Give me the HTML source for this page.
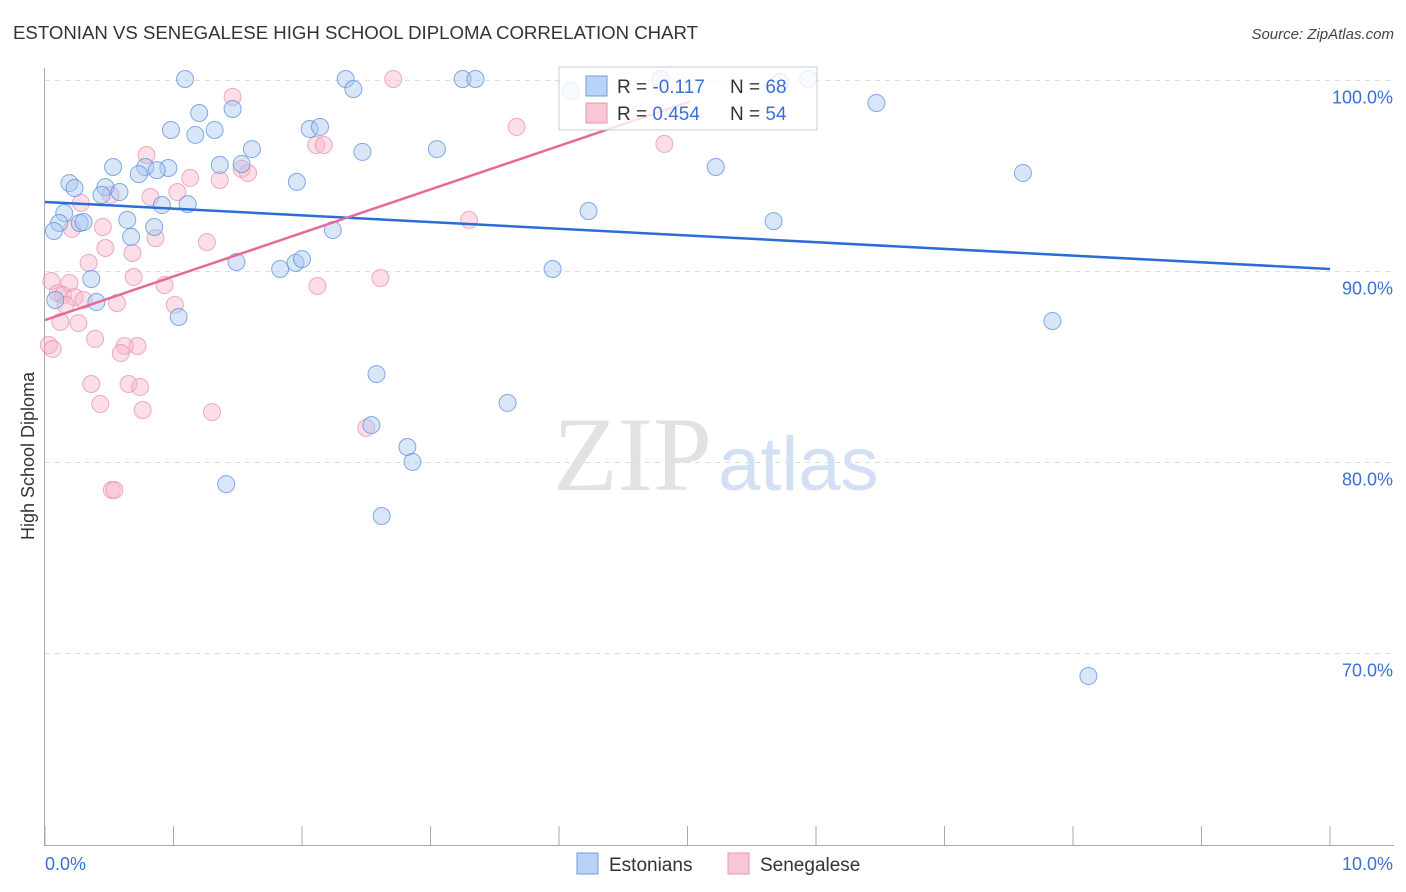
<!DOCTYPE html>
<html><head><meta charset="utf-8"><style>
body{margin:0;background:#fff;font-family:"Liberation Sans",sans-serif;}
</style></head><body>
<svg id="chart" width="1406" height="892" xmlns="http://www.w3.org/2000/svg" style="display:block;font-family:'Liberation Sans',sans-serif">
<text x="13" y="39" font-size="18" fill="#333" textLength="685" lengthAdjust="spacingAndGlyphs">ESTONIAN VS SENEGALESE HIGH SCHOOL DIPLOMA CORRELATION CHART</text>
<text x="1394" y="39" font-size="15" fill="#444" text-anchor="end" font-style="italic">Source: ZipAtlas.com</text>
<text x="553" y="490" font-size="106" fill="#e2e2e2" font-family="Liberation Serif,serif">ZIP</text>
<text x="718" y="490" font-size="76" fill="#d3e0f3">atlas</text>
<g id="grid"></g>
<g id="axes"></g>
<text transform="translate(34,456) rotate(-90)" font-size="18" fill="#333" text-anchor="middle">High School Diploma</text>
<g id="marks"></g>
<g id="lines"></g>
<g>
<rect x="559" y="67" width="258" height="63" fill="#fff" fill-opacity="0.8" stroke="#ccc"/>
<rect x="586" y="76" width="21" height="20" fill="#b9d2f5" stroke="#6e9ee6"/>
<rect x="586" y="103" width="21" height="20" fill="#f9c6d6" stroke="#ec93b0"/>
<text x="617" y="93" font-size="19" fill="#333">R = <tspan fill="#3a6fd8">-0.117</tspan></text>
<text x="730" y="93" font-size="19" fill="#333">N = <tspan fill="#3a6fd8">68</tspan></text>
<text x="617" y="120" font-size="19" fill="#333">R = <tspan fill="#3a6fd8">0.454</tspan></text>
<text x="730" y="120" font-size="19" fill="#333">N = <tspan fill="#3a6fd8">54</tspan></text>
</g>
<g>
<rect x="577" y="853" width="21" height="21" fill="#b9d2f5" stroke="#6e9ee6"/>
<text x="609" y="871" font-size="19" fill="#333">Estonians</text>
<rect x="728" y="853" width="21" height="21" fill="#f9c6d6" stroke="#ec93b0"/>
<text x="760" y="871" font-size="19" fill="#333">Senegalese</text>
</g>
</svg>
<script>
const blueX=[1.09,2.34,3.25,3.35,4.79,5.72,5.94,2.40,4.09,6.47,1.20,1.46,0.98,1.32,1.17,2.06,2.14,1.61,2.47,3.05,0.53,0.78,0.96,0.87,0.73,1.36,1.53,5.22,7.61,0.19,0.23,0.47,0.58,0.44,1.96,0.91,1.11,4.23,0.15,0.11,0.27,0.30,0.64,0.85,5.67,2.24,0.07,0.67,1.49,1.83,1.95,2.00,3.95,0.36,0.40,1.04,7.84,0.08,2.58,3.60,2.54,2.82,2.86,1.41,2.62,8.12];
const blueY=[100.08,100.08,100.08,100.08,100.08,99.92,100.08,99.55,99.45,98.82,98.30,98.51,97.41,97.41,97.15,97.46,97.57,96.41,96.26,96.41,95.47,95.47,95.42,95.31,95.10,95.58,95.63,95.47,95.16,94.63,94.37,94.42,94.16,94.01,94.69,93.48,93.53,93.17,93.06,92.54,92.54,92.59,92.70,92.33,92.64,92.17,92.12,91.81,90.50,90.13,90.45,90.65,90.13,89.61,88.40,87.62,87.41,88.51,84.63,83.12,81.96,80.81,80.03,78.87,77.20,68.82];
const pinkX=[2.71,1.46,3.67,0.79,2.11,2.17,4.82,1.53,1.58,1.13,1.36,0.82,1.03,0.28,0.51,3.30,0.21,0.45,0.86,1.26,0.47,0.68,0.34,0.05,0.19,2.61,0.69,2.12,0.93,0.10,0.14,0.23,0.30,0.56,1.01,0.16,0.26,0.12,0.39,0.72,0.62,0.59,0.03,0.06,0.36,0.65,0.74,0.43,0.76,1.30,2.50,0.52,0.54];
const pinkY=[100.08,99.14,97.57,96.10,96.62,96.62,96.68,95.37,95.16,94.90,94.79,93.90,94.16,93.59,94.01,92.70,92.23,92.33,91.75,91.54,91.23,90.97,90.45,89.50,89.40,89.66,89.71,89.24,89.29,88.87,88.77,88.66,88.51,88.35,88.25,88.25,87.30,87.36,86.47,86.10,86.10,85.73,86.15,85.94,84.11,84.11,83.95,83.06,82.75,82.64,81.81,78.56,78.56];
const yTicks=[100,90,80,70];
const yTickLabels=["100.0%","90.0%","80.0%","70.0%"];
const xTicks=[0,1,2,3,4,5,6,7,8,9,10];
const xLabels=["0.0%","10.0%"];
const blueTrend=[[0,93.64],[10,90.13]];
const pinkTrend=[[0,87.46],[5.02,98.9]];

const NS="http://www.w3.org/2000/svg";
const sx=v=>45+v*128.5;
const sy=v=>80.5+(100-v)*19.1;
function mk(tag,attrs,parent){const e=document.createElementNS(NS,tag);for(const k in attrs)e.setAttribute(k,attrs[k]);document.getElementById(parent).appendChild(e);return e;}
yTicks.forEach((t,i)=>{
 const g=mk('line',{x1:45,x2:1394,y1:sy(t),y2:sy(t),stroke:'#ddd','stroke-dasharray':'5,5'},'grid');
 
 
 const tx=mk('text',{x:1393,y:sy(t)+23,'font-size':18,fill:'#3a6fd8','text-anchor':'end'},'axes');
 tx.textContent=yTickLabels[i];
 
 
});
const ax=mk('line',{x1:44.5,x2:44.5,y1:68,y2:845,stroke:'#aaa'},'axes');


const bx=mk('line',{x1:44,x2:1394,y1:845.5,y2:845.5,stroke:'#aaa'},'axes');


xTicks.forEach(t=>{
 const l=mk('line',{x1:sx(t),x2:sx(t),y1:826,y2:845,stroke:'#aaa'},'axes');
 
 
});
const xl0=mk('text',{x:45,y:870,'font-size':18,fill:'#3a6fd8'},'axes');xl0.textContent=xLabels[0];


const xl1=mk('text',{x:1393,y:870,'font-size':18,fill:'#3a6fd8','text-anchor':'end'},'axes');xl1.textContent=xLabels[1];


pinkX.forEach((x,i)=>{
 const c=mk('circle',{cx:sx(x),cy:sy(pinkY[i]),r:8.5,fill:'#f6b5ca','fill-opacity':0.45,stroke:'#e88aa9','stroke-opacity':0.7},'marks');
 
 
});
blueX.forEach((x,i)=>{
 const c=mk('circle',{cx:sx(x),cy:sy(blueY[i]),r:8.5,fill:'#a9c7f0','fill-opacity':0.45,stroke:'#5b8fe0','stroke-opacity':0.75},'marks');
 
 
});
const bl=mk('line',{x1:sx(blueTrend[0][0]),y1:sy(blueTrend[0][1]),x2:sx(blueTrend[1][0]),y2:sy(blueTrend[1][1]),stroke:'#2a6dd6','stroke-width':2.5},'lines');


const pl=mk('line',{x1:sx(pinkTrend[0][0]),y1:sy(pinkTrend[0][1]),x2:sx(pinkTrend[1][0]),y2:sy(pinkTrend[1][1]),stroke:'#e56a98','stroke-width':2.5},'lines');


</script>
</body></html>
